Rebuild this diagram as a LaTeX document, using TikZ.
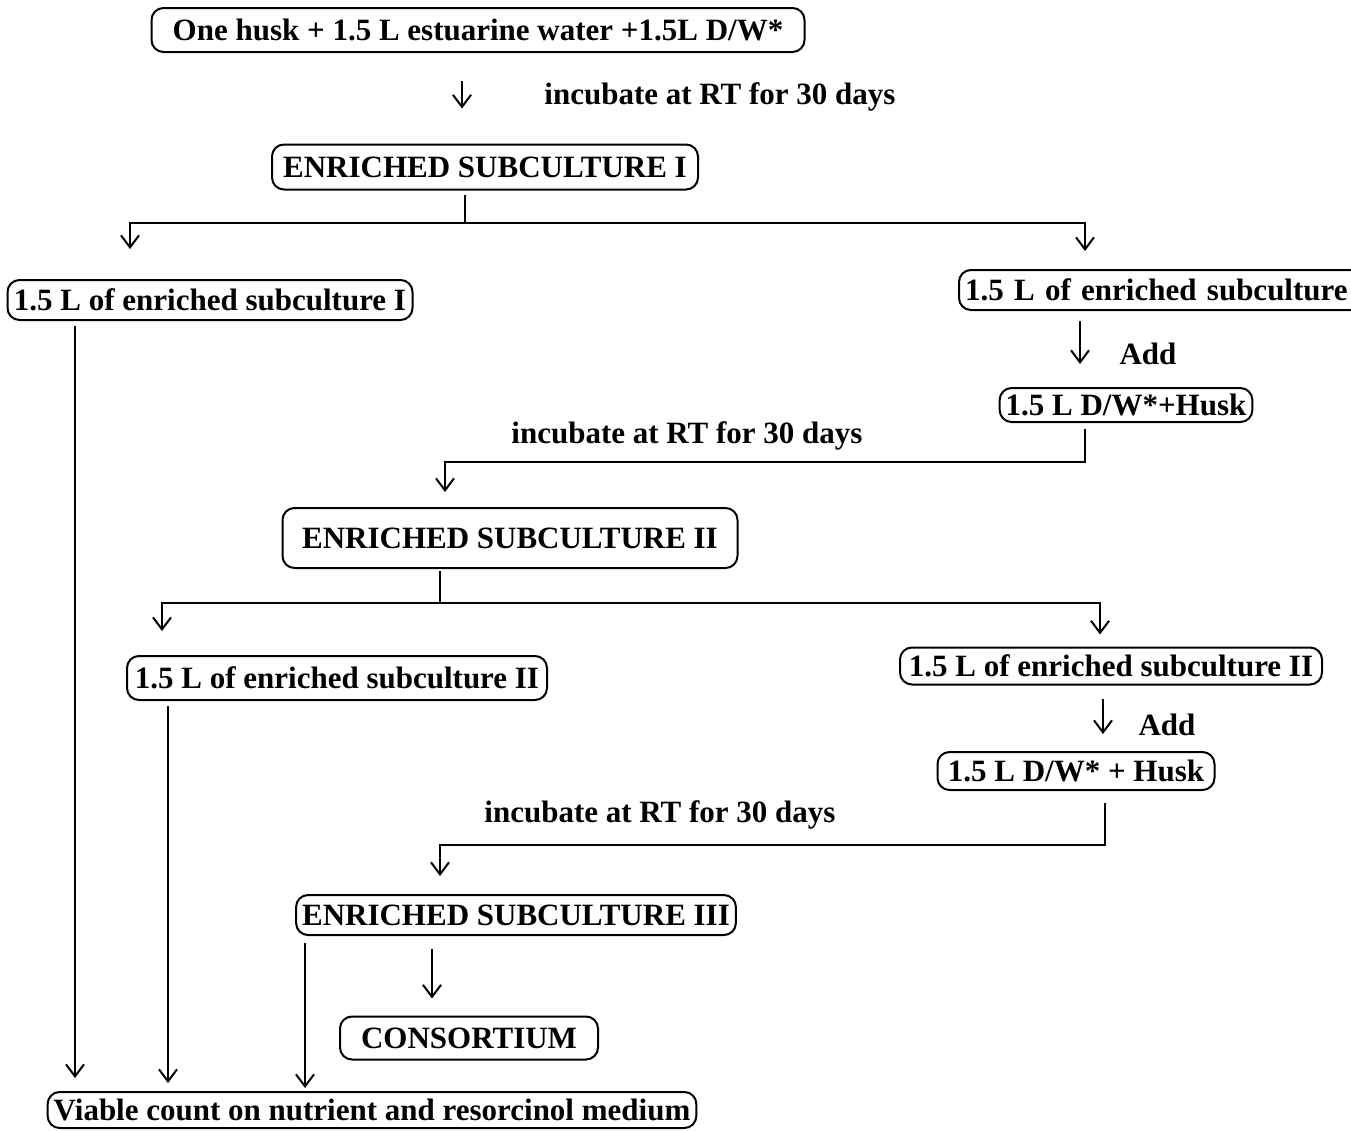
\documentclass[tikz,border=0pt]{standalone}
\usepackage{fontspec}
\setmainfont{Liberation Serif}
\usetikzlibrary{arrows.meta}
\newdimen\pxu \pxu=0.5pt

\begin{document}
\begin{tikzpicture}[x=0.5pt,y=-0.5pt,
  box/.style={draw,line width=1pt,rounded corners=6pt,inner xsep=3pt,inner ysep=0pt,
    font=\fontsize{15.5}{18}\selectfont\bfseries},
  lbl/.style={font=\fontsize{15.5}{18}\selectfont\bfseries},
  arr/.style={line width=1pt,-{Straight Barb[length=6pt,width=9pt]}},
  link/.style={line width=1pt}]

  \useasboundingbox (0,0) rectangle (1351,1131);
  \clip (0,0) rectangle (1351,1131);

  % stage I
  \node[box,minimum width=653\pxu,minimum height=44\pxu] (H) at (478,30) {One husk + 1.5 L estuarine water +1.5L D/W*};
  \node[lbl] (I1) at (720,97) {incubate at RT for 30 days};
  \node[box,minimum width=426\pxu,minimum height=45\pxu] (E1) at (485,167) {ENRICHED SUBCULTURE I};
  \node[box,minimum width=405\pxu,minimum height=40\pxu] (E1a) at (210,300) {1.5 L of enriched subculture I};
  \node[box,anchor=west,text width=420\pxu,align=left,inner xsep=6\pxu,minimum height=40\pxu] (E1b) at (958,290) {1.5 L of enriched subculture};
  \node[lbl] (A1) at (1148,354) {Add};
  \node[box,minimum width=248\pxu,minimum height=34\pxu] (E1c) at (1126,405) {1.5 L D/W*+Husk};

  % stage II
  \node[lbl] (I2) at (687,436) {incubate at RT for 30 days};
  \node[box,minimum width=455\pxu,minimum height=60\pxu] (E2) at (510,538) {ENRICHED SUBCULTURE II};
  \node[box,minimum width=420\pxu,minimum height=44\pxu] (E2a) at (337,678) {1.5 L of enriched subculture II};
  \node[box,minimum width=422\pxu,minimum height=37\pxu] (E2b) at (1111,666) {1.5 L of enriched subculture II};
  \node[lbl] (A2) at (1167,725) {Add};
  \node[box,minimum width=277\pxu,minimum height=38\pxu] (E2c) at (1076,771) {1.5 L D/W* + Husk};

  % stage III
  \node[lbl] (I3) at (660,815) {incubate at RT for 30 days};
  \node[box,minimum width=438\pxu,minimum height=40\pxu] (E3) at (516,915) {ENRICHED SUBCULTURE III};
  \node[box,minimum width=258\pxu,minimum height=43\pxu] (C) at (469,1038) {CONSORTIUM};
  \node[box,minimum width=641\pxu,minimum height=36\pxu] (V) at (372,1110) {Viable count on nutrient and resorcinol medium};

  \coordinate (b1) at (465,223);
  \coordinate (b2) at (440,603);
  \coordinate (k1) at (1085,462);
  \coordinate (k2) at (1105,845);

  \draw[arr,shorten <=28\pxu,shorten >=35\pxu] (H.south -| 462,0) -- (E1.north -| 462,0);
  \draw[link,shorten <=4\pxu] (E1.south -| b1) -- (b1);
  \draw[arr,shorten >=30\pxu] (b1) -| (E1a.north -| 130,0);
  \draw[arr,shorten >=18\pxu] (b1) -| (E1b.north -| 1085,0);
  \draw[arr,shorten <=10\pxu,shorten >=23\pxu] (E1b.south -| 1080,0) -- (E1c.north -| 1080,0);
  \draw[arr,shorten <=6\pxu,shorten >=15\pxu] (E1c.south -| k1) -- (k1) -| (E2.north -| 445,0);

  \draw[link,shorten <=2\pxu] (E2.south -| b2) -- (b2);
  \draw[arr,shorten >=24\pxu] (b2) -| (E2a.north -| 162,0);
  \draw[arr,shorten >=12\pxu] (b2) -| (E2b.north -| 1100,0);
  \draw[arr,shorten <=13\pxu,shorten >=17\pxu] (E2b.south -| 1103,0) -- (E2c.north -| 1103,0);
  \draw[arr,shorten <=12\pxu,shorten >=18\pxu] (E2c.south -| k2) -- (k2) -| (E3.north -| 440,0);

  \draw[arr,shorten <=13\pxu,shorten >=17\pxu] (E3.south -| 432,0) -- (C.north -| 432,0);

  % viable count
  \draw[arr,shorten <=5\pxu,shorten >=13\pxu] (E1a.south -| 75,0) -- (V.north -| 75,0);
  \draw[arr,shorten <=5\pxu,shorten >=8\pxu] (E2a.south -| 168,0) -- (V.north -| 168,0);
  \draw[arr,shorten <=7\pxu,shorten >=3\pxu] (E3.south -| 305,0) -- (V.north -| 305,0);

\end{tikzpicture}
\end{document}
